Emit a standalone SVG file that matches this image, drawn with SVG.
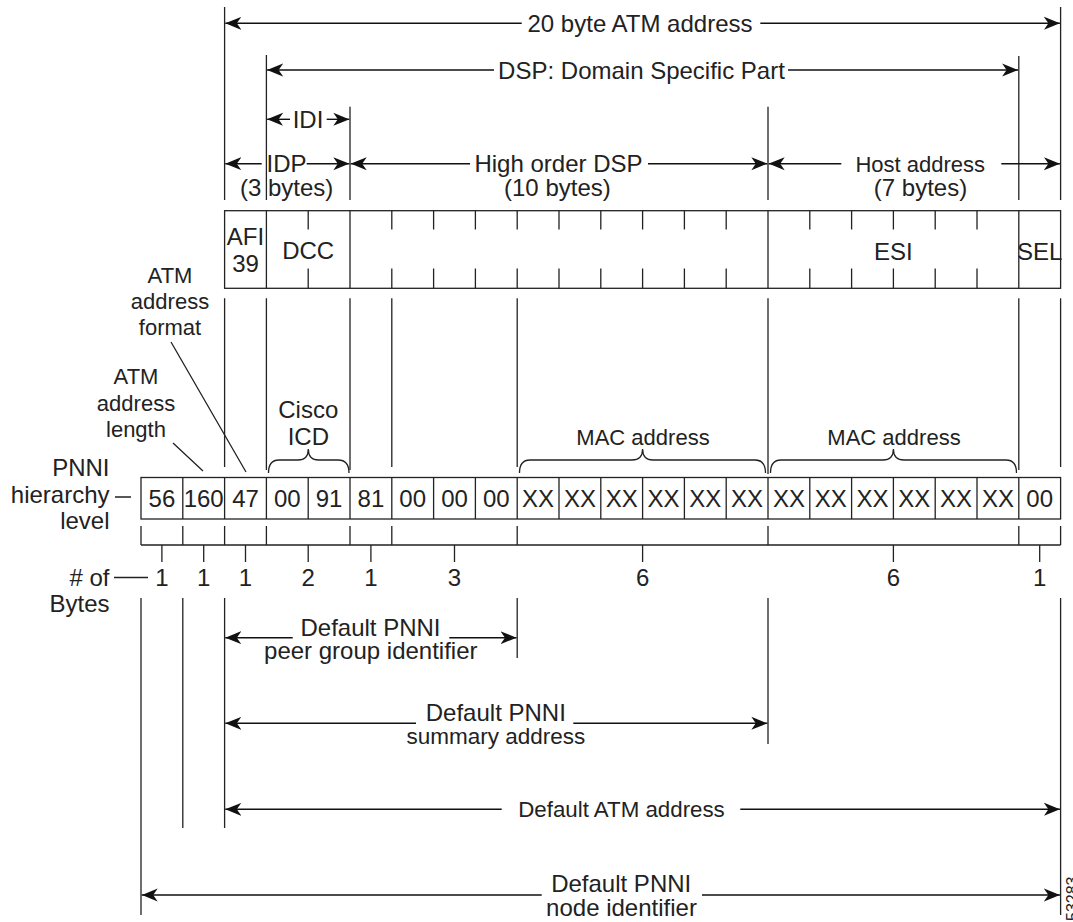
<svg xmlns="http://www.w3.org/2000/svg" width="1073" height="922" viewBox="0 0 1073 922">
<defs>
<marker id="arr" viewBox="0 0 16 14" refX="16" refY="7" markerWidth="16" markerHeight="14" markerUnits="userSpaceOnUse" orient="auto"><path d="M16,7 L0,0.5 L4.5,7 L0,13.5 Z" fill="#111"/></marker>
</defs>
<style>
text { font-family: "Liberation Sans", Arial, Helvetica, sans-serif; font-size: 24px; fill: #222; }
.m { text-anchor: middle; }
.e { text-anchor: end; }
.s22 { font-size: 22px; }
.s225 { font-size: 22.5px; }
.ln { stroke: #222; stroke-width: 1.3; fill: none; }
.ar { stroke: #111; stroke-width: 1.4; fill: none; marker-end: url(#arr); }
</style>
<rect width="1073" height="922" fill="#fff"/>

<g id="connectors">
  <!-- top guide verticals -->
  <path class="ln" d="M224.6,7V200 M266.4,55V200 M350,106.7V200 M768,106.7V200 M1018.8,56V200 M1060.6,7V200"/>
  <!-- top dimension arrows -->
  <line class="ar" x1="521.7" y1="23.3" x2="225.3" y2="23.3"/>
  <line class="ar" x1="760.3" y1="23.3" x2="1059.9" y2="23.3"/>
  <line class="ar" x1="494" y1="70" x2="267.1" y2="70"/>
  <line class="ar" x1="788" y1="70" x2="1018.1" y2="70"/>
  <line class="ar" x1="290" y1="119.3" x2="267.1" y2="119.3"/>
  <line class="ar" x1="326.7" y1="119.3" x2="349.3" y2="119.3"/>
  <line class="ar" x1="261.7" y1="163.7" x2="225.3" y2="163.7"/>
  <line class="ar" x1="306.7" y1="163.7" x2="349.3" y2="163.7"/>
  <line class="ar" x1="470" y1="163.7" x2="350.7" y2="163.7"/>
  <line class="ar" x1="648" y1="163.7" x2="767.3" y2="163.7"/>
  <line class="ar" x1="841.3" y1="163.7" x2="768.7" y2="163.7"/>
  <line class="ar" x1="1001.3" y1="163.7" x2="1059.9" y2="163.7"/>
  <!-- middle verticals between field box and byte row -->
  <path class="ln" d="M224.6,298.3V467 M266.4,298.3V470 M350,298.3V470 M391.8,298.3V467 M517.2,298.3V467 M768,298.3V474 M1018.8,298.3V470 M1060.6,298.3V467"/>
  <!-- braces -->
  <path class="ln" d="M268.5,473 Q268.5,460 279,460 L298,460 Q308.3,460 308.3,449 Q308.3,460 318.6,460 L338,460 Q349,460 349,473"/>
  <path class="ln" d="M519.5,473 Q519.5,460 530,460 L632,460 Q642.6,460 642.6,449 Q642.6,460 653,460 L755,460 Q765.5,460 765.5,473"/>
  <path class="ln" d="M770.5,473 Q770.5,460 781,460 L883,460 Q893.4,460 893.4,449 Q893.4,460 904,460 L1006,460 Q1016.5,460 1016.5,473"/>
  <!-- leader lines -->
  <path class="ln" d="M171,342 L246,472 M173,443 L203,471 M115,497 H131 M114,577.5 H148"/>
  <!-- byte-count bracket row -->
  <path class="ln" d="M141,526V545 M182.8,526V545 M224.6,526V545 M266.4,526V545 M350,526V545 M391.8,526V545 M517.2,526V545 M768,526V545 M1018.8,526V545 M1060.6,526V545 M141,545H1060.6"/>
  <path class="ln" d="M161.9,545V562 M203.7,545V562 M245.5,545V562 M308.2,545V562 M370.9,545V562 M454.5,545V562 M642.6,545V562 M893.4,545V562 M1039.7,545V562"/>
  <!-- lower verticals -->
  <path class="ln" d="M141,598V915 M182.8,598V828 M224.6,598V828 M517.2,598V658 M768,598V744 M1060.6,598V915"/>
  <!-- bottom arrows -->
  <line class="ar" x1="292.7" y1="637.7" x2="225.3" y2="637.7"/>
  <line class="ar" x1="449.3" y1="637.7" x2="516.5" y2="637.7"/>
  <line class="ar" x1="416" y1="723.3" x2="225.3" y2="723.3"/>
  <line class="ar" x1="573.3" y1="723.3" x2="767.3" y2="723.3"/>
  <line class="ar" x1="501.7" y1="809.3" x2="225.3" y2="809.3"/>
  <line class="ar" x1="740.3" y1="809.3" x2="1059.9" y2="809.3"/>
  <line class="ar" x1="541.7" y1="895" x2="141.7" y2="895"/>
  <line class="ar" x1="702" y1="895" x2="1059.9" y2="895"/>
</g>

<g id="dim-20-byte"><text class="m" x="640" y="31.7">20 byte ATM address</text></g>
<g id="dim-dsp"><text class="m" x="641.5" y="78.6">DSP: Domain Specific Part</text></g>
<g id="dim-idi"><text class="m" x="308" y="128">IDI</text></g>
<g id="dim-idp"><text class="m" x="286.5" y="172">IDP</text><text class="m" x="286.7" y="195.5">(3 bytes)</text></g>
<g id="dim-ho-dsp"><text class="m" x="558.5" y="172">High order DSP</text><text class="m" x="557.4" y="195.5">(10 bytes)</text></g>
<g id="dim-host"><text class="m s22" x="920.2" y="171.7">Host address</text><text class="m" x="920.5" y="195.5">(7 bytes)</text></g>

<g id="field-box">
  <rect class="ln" x="224.6" y="210.7" width="836" height="77.6"/>
  <path class="ln" d="M266.4,210.7V288.3 M350,210.7V288.3 M768,210.7V288.3 M1018.8,210.7V288.3"/>
  <path class="ln" d="M308.2,210.7V229.5 M391.8,210.7V229.5 M433.6,210.7V229.5 M475.4,210.7V229.5 M517.2,210.7V229.5 M559,210.7V229.5 M600.8,210.7V229.5 M642.6,210.7V229.5 M684.4,210.7V229.5 M726.2,210.7V229.5 M809.8,210.7V229.5 M851.6,210.7V229.5 M893.4,210.7V229.5 M935.2,210.7V229.5 M977,210.7V229.5"/>
  <path class="ln" d="M308.2,268.5V288.3 M391.8,268.5V288.3 M433.6,268.5V288.3 M475.4,268.5V288.3 M517.2,268.5V288.3 M559,268.5V288.3 M600.8,268.5V288.3 M642.6,268.5V288.3 M684.4,268.5V288.3 M726.2,268.5V288.3 M809.8,268.5V288.3 M851.6,268.5V288.3 M893.4,268.5V288.3 M935.2,268.5V288.3 M977,268.5V288.3"/>
  <text class="m" x="245.5" y="245">AFI</text>
  <text class="m" x="245.5" y="271.5">39</text>
  <text class="m" x="308.2" y="259.3">DCC</text>
  <text class="m" x="893.4" y="260">ESI</text>
  <text class="m" x="1039.7" y="260">SEL</text>
</g>

<g id="label-format"><text class="m s22" x="170" y="282.5">ATM</text><text class="m s22" x="170" y="308.5">address</text><text class="m s22" x="170" y="335">format</text></g>
<g id="label-length"><text class="m s22" x="136" y="383.5">ATM</text><text class="m s22" x="136" y="411">address</text><text class="m s22" x="136" y="437">length</text></g>
<g id="label-cisco-icd"><text class="m" x="308.3" y="418.3">Cisco</text><text class="m" x="308.3" y="445">ICD</text></g>
<g id="label-mac-1"><text class="m s22" x="643" y="445">MAC address</text></g>
<g id="label-mac-2"><text class="m s22" x="894" y="445">MAC address</text></g>
<g id="label-pnni-level"><text class="e" x="109.5" y="476">PNNI</text><text class="e" x="109.5" y="503">hierarchy</text><text class="e" x="109.5" y="529">level</text></g>

<g id="byte-row">
  <rect class="ln" x="141" y="477.5" width="919.6" height="41.5"/>
  <path class="ln" d="M182.8,477.5V519 M224.6,477.5V519 M266.4,477.5V519 M308.2,477.5V519 M350,477.5V519 M391.8,477.5V519 M433.6,477.5V519 M475.4,477.5V519 M517.2,477.5V519 M559,477.5V519 M600.8,477.5V519 M642.6,477.5V519 M684.4,477.5V519 M726.2,477.5V519 M768,477.5V519 M809.8,477.5V519 M851.6,477.5V519 M893.4,477.5V519 M935.2,477.5V519 M977,477.5V519 M1018.8,477.5V519"/>
  <text class="m" x="161.9" y="507">56</text>
  <text class="m" x="203.7" y="507">160</text>
  <text class="m" x="245.5" y="507">47</text>
  <text class="m" x="287.3" y="507">00</text>
  <text class="m" x="329.1" y="507">91</text>
  <text class="m" x="370.9" y="507">81</text>
  <text class="m" x="412.7" y="507">00</text>
  <text class="m" x="454.5" y="507">00</text>
  <text class="m" x="496.3" y="507">00</text>
  <text class="m" x="538.1" y="507">XX</text>
  <text class="m" x="579.9" y="507">XX</text>
  <text class="m" x="621.7" y="507">XX</text>
  <text class="m" x="663.5" y="507">XX</text>
  <text class="m" x="705.3" y="507">XX</text>
  <text class="m" x="747.1" y="507">XX</text>
  <text class="m" x="788.9" y="507">XX</text>
  <text class="m" x="830.7" y="507">XX</text>
  <text class="m" x="872.5" y="507">XX</text>
  <text class="m" x="914.3" y="507">XX</text>
  <text class="m" x="956.1" y="507">XX</text>
  <text class="m" x="997.9" y="507">XX</text>
  <text class="m" x="1039.7" y="507">00</text>
</g>

<g id="byte-counts">
  <text class="e" x="109.5" y="585.5">#&#160;of</text>
  <text class="e" x="109.5" y="611.5">Bytes</text>
  <text class="m" x="161.9" y="585.5">1</text>
  <text class="m" x="203.7" y="585.5">1</text>
  <text class="m" x="245.5" y="585.5">1</text>
  <text class="m" x="308.2" y="585.5">2</text>
  <text class="m" x="370.9" y="585.5">1</text>
  <text class="m" x="454.5" y="585.5">3</text>
  <text class="m" x="642.6" y="585.5">6</text>
  <text class="m" x="893.4" y="585.5">6</text>
  <text class="m" x="1039.7" y="585.5">1</text>
</g>

<g id="dim-peer-group"><text class="m" x="370.5" y="635.5">Default PNNI</text><text class="m" x="370.8" y="658.5">peer group identifier</text></g>
<g id="dim-summary"><text class="m" x="495.8" y="720.5">Default PNNI</text><text class="m s225" x="495.8" y="744">summary address</text></g>
<g id="dim-default-atm"><text class="m" x="621.5" y="817" style="font-size:22.3px">Default ATM address</text></g>
<g id="dim-node-id"><text class="m" x="621.2" y="892">Default PNNI</text><text class="m" x="621.5" y="916">node identifier</text></g>
<g id="figure-number"><text transform="translate(1078,921) rotate(-90)" style="font-size:16px">53283</text></g>
</svg>
